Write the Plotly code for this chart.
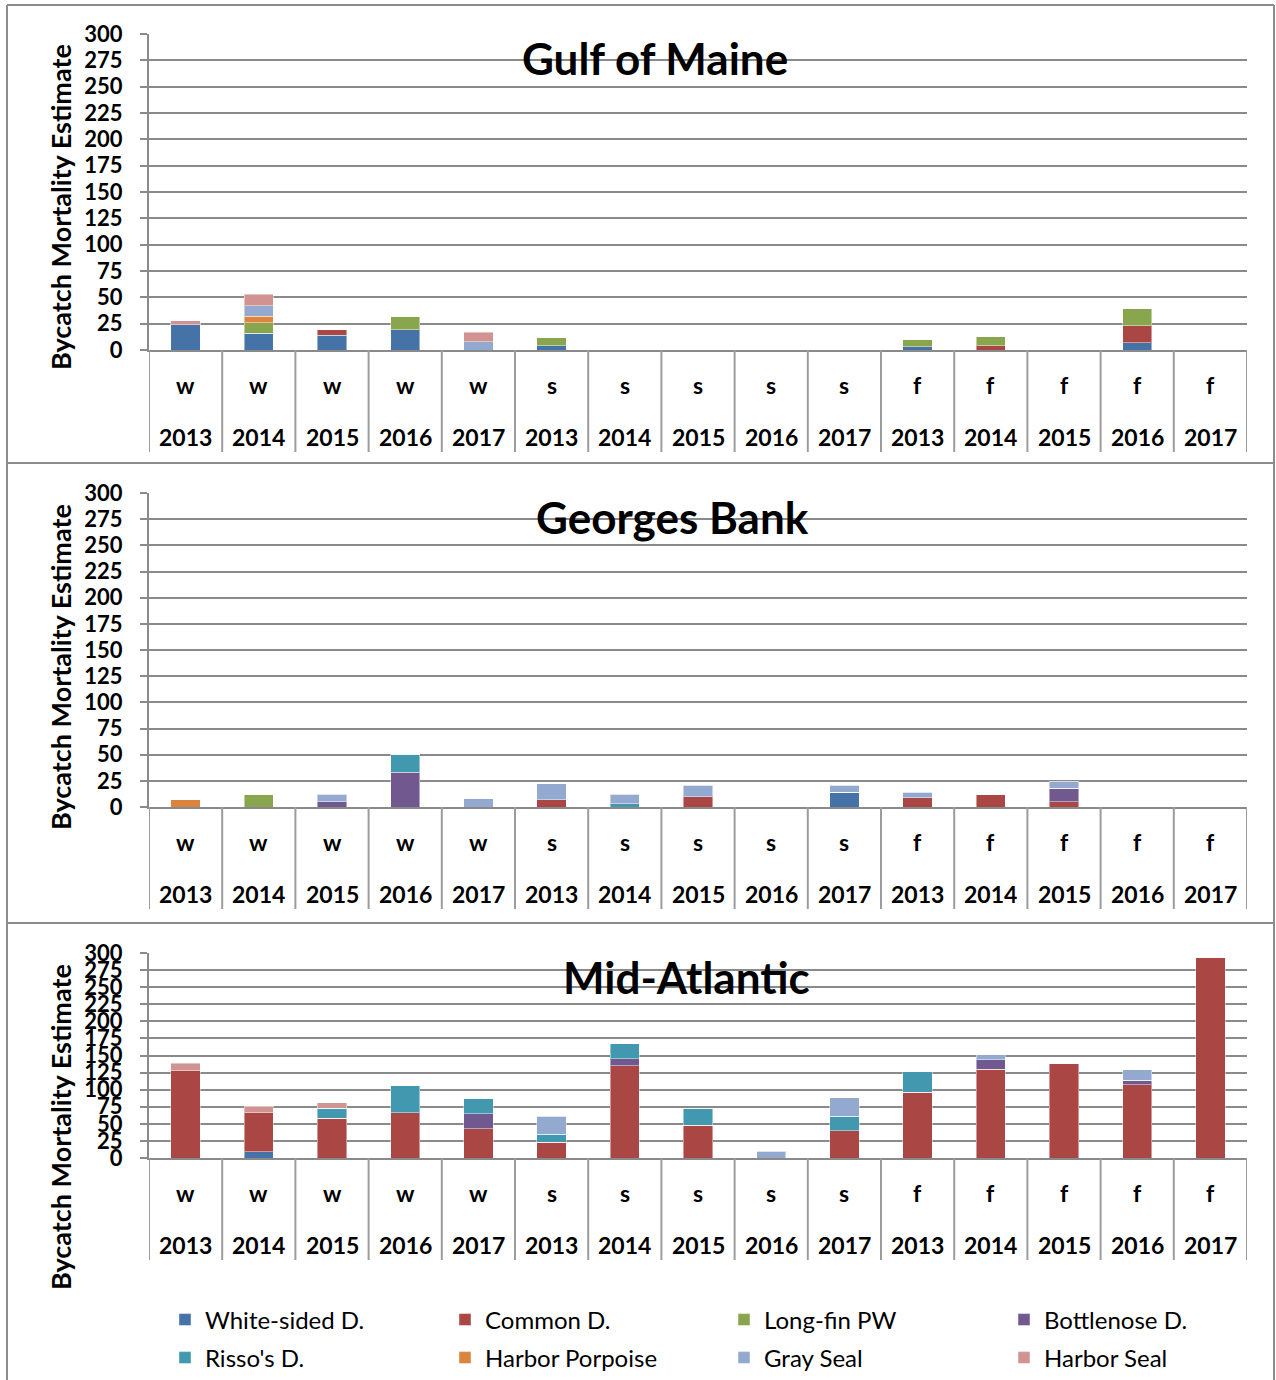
import plotly.graph_objects as go

# ---------------- data ----------------
seasons = ["w"] * 5 + ["s"] * 5 + ["f"] * 5
years = ["2013", "2014", "2015", "2016", "2017"] * 3
categories = [f"{s}{y}" for s, y in zip(seasons, years)]

species = ["White-sided D.", "Common D.", "Long-fin PW", "Bottlenose D.",
           "Risso's D.", "Harbor Porpoise", "Gray Seal", "Harbor Seal"]
colors = ["#4572A7", "#AA4643", "#89A54E", "#71588F",
          "#4198AF", "#DB843D", "#93A9CF", "#D19392"]

regions = ["Gulf of Maine", "Georges Bank", "Mid-Atlantic"]

# Gulf of Maine
gom_white_sided = [24, 16, 14, 19, 0, 4, 0, 0, 0, 0, 3, 0, 0, 7, 0]
gom_common      = [0, 0, 5, 0, 0, 0, 0, 0, 0, 0, 0, 4, 0, 16, 0]
gom_longfin     = [0, 10, 0, 13, 0, 8, 0, 0, 0, 0, 7, 9, 0, 16, 0]
gom_bottlenose  = [0] * 15
gom_risso       = [0] * 15
gom_porpoise    = [0, 6, 0, 0, 0, 0, 0, 0, 0, 0, 0, 0, 0, 0, 0]
gom_gray_seal   = [0, 10, 0, 0, 8, 0, 0, 0, 0, 0, 0, 0, 0, 0, 0]
gom_harbor_seal = [4, 11, 0, 0, 9, 0, 0, 0, 0, 0, 0, 0, 0, 0, 0]

# Georges Bank
gb_white_sided = [0, 0, 0, 0, 0, 0, 0, 0, 0, 14, 0, 0, 0, 0, 0]
gb_common      = [0, 0, 0, 0, 0, 7, 0, 10, 0, 0, 9, 12, 5, 0, 0]
gb_longfin     = [0, 12, 0, 0, 0, 0, 0, 0, 0, 0, 0, 0, 0, 0, 0]
gb_bottlenose  = [0, 0, 5, 33, 0, 0, 0, 0, 0, 0, 0, 0, 13, 0, 0]
gb_risso       = [0, 0, 0, 17, 0, 0, 3, 0, 0, 0, 0, 0, 0, 0, 0]
gb_porpoise    = [7, 0, 0, 0, 0, 0, 0, 0, 0, 0, 0, 0, 0, 0, 0]
gb_gray_seal   = [0, 0, 7, 0, 8, 15, 9, 11, 0, 7, 5, 0, 6, 0, 0]
gb_harbor_seal = [0] * 15

# Mid-Atlantic
ma_white_sided = [0, 9, 0, 0, 0, 0, 0, 0, 0, 0, 0, 0, 0, 0, 0]
ma_common      = [128, 57, 58, 66, 43, 23, 135, 48, 0, 40, 96, 130, 138, 107, 293]
ma_longfin     = [0] * 15
ma_bottlenose  = [0, 0, 0, 0, 22, 0, 10, 0, 0, 0, 0, 14, 0, 7, 0]
ma_risso       = [0, 0, 15, 40, 22, 12, 22, 25, 0, 21, 30, 0, 0, 0, 0]
ma_porpoise    = [0] * 15
ma_gray_seal   = [0, 0, 0, 0, 0, 26, 0, 0, 10, 27, 0, 7, 0, 15, 0]
ma_harbor_seal = [11, 10, 8, 0, 0, 0, 0, 0, 0, 0, 0, 0, 0, 0, 0]

region_data = [
    [gom_white_sided, gom_common, gom_longfin, gom_bottlenose,
     gom_risso, gom_porpoise, gom_gray_seal, gom_harbor_seal],
    [gb_white_sided, gb_common, gb_longfin, gb_bottlenose,
     gb_risso, gb_porpoise, gb_gray_seal, gb_harbor_seal],
    [ma_white_sided, ma_common, ma_longfin, ma_bottlenose,
     ma_risso, ma_porpoise, ma_gray_seal, ma_harbor_seal],
]

y_ticks = list(range(0, 301, 25))

# ---------------- layout helpers ----------------
W, H = 1276, 1380
def px(x):
    return x / W
def py(y):
    return 1 - y / H

FONT = "Lato, Carlito, Calibri, sans-serif"
GRID = "#8a8a8a"
SEP = "#9c9c9c"

plot_left, plot_right = 149, 1247
panels = [  # (top px, bottom px, title center x, title y, ytitle center y)
    (34, 350, 655, 58, 207),
    (493, 807, 672, 517, 667),
    (953, 1158, 687, 977, 1127),
]

fig = go.Figure()

legend_ids = ["legend", "legend2", "legend3", "legend4",
              "legend5", "legend6", "legend7", "legend8"]

for r, series in enumerate(region_data):
    xa = "x" if r == 0 else f"x{r + 1}"
    ya = "y" if r == 0 else f"y{r + 1}"
    for k, (name, vals) in enumerate(zip(species, series)):
        fig.add_trace(go.Bar(
            x=categories, y=vals, name=name,
            marker=dict(color=colors[k], line=dict(width=1, color="rgba(255,255,255,0.45)")),
            xaxis=xa, yaxis=ya,
            showlegend=(r == 0), legend=legend_ids[k],
            hoverinfo="x+y+name",
        ))

layout = dict(
    width=W, height=H,
    margin=dict(l=0, r=0, t=0, b=0, pad=0, autoexpand=False),
    paper_bgcolor="white", plot_bgcolor="white",
    barmode="stack", bargap=0.6,
    font=dict(family=FONT, color="black"),
)

annotations = []
shapes = []

for r, (top, bot, tx, ty, yty) in enumerate(panels):
    xkey = "xaxis" if r == 0 else f"xaxis{r + 1}"
    ykey = "yaxis" if r == 0 else f"yaxis{r + 1}"
    xref = "x" if r == 0 else f"x{r + 1}"
    yref = "y" if r == 0 else f"y{r + 1}"
    layout[xkey] = dict(
        domain=[px(plot_left), px(plot_right)], anchor=yref,
        type="category", categoryorder="array", categoryarray=categories,
        range=[-0.5, 14.5], showticklabels=False, ticks="",
        showgrid=False, showline=True, linecolor=GRID, linewidth=2,
        zeroline=False, fixedrange=True, automargin=False,
    )
    layout[ykey] = dict(
        domain=[py(bot), py(top)], anchor=xref,
        range=[0, 300], tickmode="array", tickvals=y_ticks,
        ticktext=[str(v) for v in y_ticks],
        showgrid=True, gridcolor=GRID, gridwidth=2,
        showline=True, linecolor=GRID, linewidth=2,
        ticks="outside", ticklen=7, tickwidth=2, tickcolor=GRID,
        ticklabelstandoff=13,
        tickfont=dict(family=FONT, size=22, color="black", weight="bold"),
        zeroline=False, fixedrange=True, automargin=False,
    )
    # chart title
    annotations.append(dict(
        text=regions[r], x=px(tx), y=py(ty), xref="paper", yref="paper",
        showarrow=False, xanchor="center", yanchor="middle",
        font=dict(family=FONT, size=44, color="black", weight="bold"),
    ))
    # y axis title
    annotations.append(dict(
        text="Bycatch Mortality Estimate", x=px(60), y=py(yty),
        xref="paper", yref="paper", showarrow=False, textangle=-90,
        xanchor="center", yanchor="middle",
        font=dict(family=FONT, size=27, color="black", weight="bold"),
    ))
    # category labels (two rows)
    for c, s, yv in zip(categories, seasons, years):
        annotations.append(dict(
            text=s, x=c, y=py(bot + 35), xref=xref, yref="paper",
            showarrow=False, xanchor="center", yanchor="middle",
            font=dict(family=FONT, size=23, color="black", weight="bold"),
        ))
        annotations.append(dict(
            text=yv, x=c, y=py(bot + 87), xref=xref, yref="paper",
            showarrow=False, xanchor="center", yanchor="middle",
            font=dict(family=FONT, size=23, color="black", weight="bold"),
        ))
    # category separators
    for i in range(len(categories) + 1):
        shapes.append(dict(
            type="line", xref=xref, yref="paper",
            x0=i - 0.5, x1=i - 0.5, y0=py(bot), y1=py(bot + 102),
            line=dict(color=SEP, width=2),
        ))

# panel borders
BORDER = "#8c8c8c"
for y in (5, 463, 923):
    shapes.append(dict(type="line", xref="paper", yref="paper",
                       x0=px(7), x1=px(1274), y0=py(y), y1=py(y),
                       line=dict(color=BORDER, width=2)))
for x in (7, 1274):
    shapes.append(dict(type="line", xref="paper", yref="paper",
                       x0=px(x), x1=px(x), y0=py(5), y1=py(1380),
                       line=dict(color=BORDER, width=2)))

layout["annotations"] = annotations
layout["shapes"] = shapes

# legends: 4 columns x 2 rows
col_x = [165, 445, 724, 1004]
row_y = [1320, 1358]
for k, lid in enumerate(legend_ids):
    layout[lid] = dict(
        x=px(col_x[k % 4]), y=py(row_y[k // 4]),
        xanchor="left", yanchor="middle",
        orientation="h", bgcolor="rgba(0,0,0,0)", borderwidth=0,
        font=dict(family=FONT, size=24, color="black"),
        itemclick=False, itemdoubleclick=False,
    )

fig.update_layout(**layout)
fig.write_html(
    "out.html",
    config={"displayModeBar": False},
    post_script="document.body.style.margin='0';document.body.style.overflow='hidden';",
)
